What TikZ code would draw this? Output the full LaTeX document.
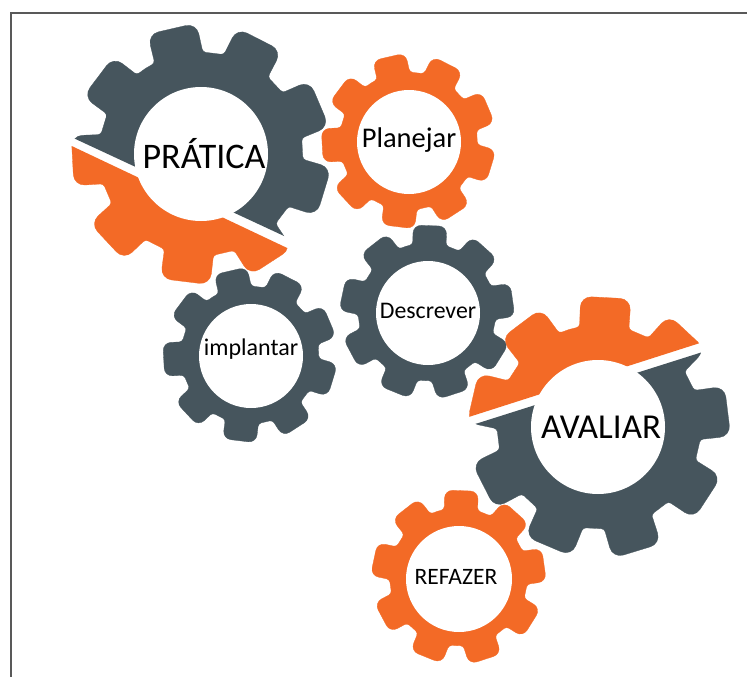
\documentclass[tikz,border=0pt]{standalone}
\usepackage{fontspec}
\setmainfont{Carlito}
\usetikzlibrary{positioning}
\definecolor{geardark}{RGB}{70,85,93}
\definecolor{gearorange}{RGB}{243,106,38}
\tikzstyle{gearhole} = [circle, fill=white, inner sep=0pt]
\tikzstyle{gearlabel} = [text=black, inner sep=0pt, anchor=center]
\tikzstyle{frameline} = [color=black!65, line width=1.6pt]
\newcommand{\GearBody}[6]{
	\begin{scope}[shift={#1}]
		\fill[color=#5,draw=#5,line width=0.3pt]
		({#4-20}:#2) foreach \a in {0,40,...,320} {
			[rounded corners=3pt] -- ({#4+\a-14}:#2)
			[rounded corners=#6] -- ({#4+\a-11}:#3) -- ({#4+\a+11}:#3)
			[rounded corners=3pt] -- ({#4+\a+14}:#2)
		} -- cycle;
	\end{scope}
}
\begin{document}
\begin{tikzpicture}[x=1pt,y=-1pt]
	\useasboundingbox (0,0) rectangle (747,677);
	\fill[white] (0,0) rectangle (747,677);
	\draw[frameline] (11,677) -- (11,13) -- (747,13);

	% split gears
	\begin{scope}
		\clip (40,122.5) -- (340,262) -- (340,0) -- (40,0) -- cycle;
		\GearBody{(201,154)}{102}{131}{-103}{geardark}{11pt}
	\end{scope}
	\begin{scope}
		\clip (40,131) -- (340,273) -- (340,320) -- (40,320) -- cycle;
		\GearBody{(201,154)}{102}{131}{-103}{gearorange}{11pt}
	\end{scope}
	\begin{scope}
		\clip (450,432) -- (750,337) -- (750,600) -- (450,600) -- cycle;
		\GearBody{(599,427)}{102}{132}{-87}{geardark}{11pt}
	\end{scope}
	\begin{scope}
		\clip (450,423) -- (750,327) -- (750,270) -- (450,270) -- cycle;
		\GearBody{(599,427)}{102}{132}{-87}{gearorange}{11pt}
	\end{scope}

	% plain gears
	\GearBody{(408.5,141)}{69}{88}{-103}{gearorange}{8pt}
	\GearBody{(250,355)}{69}{88}{-103}{geardark}{8pt}
	\GearBody{(427,312)}{69}{88}{-88}{geardark}{8pt}
	\GearBody{(458.5,577)}{69}{88}{-88}{gearorange}{8pt}

	% holes
	\node[gearhole,minimum size=134pt] (PH) at (201,154) {};
	\node[gearhole,minimum size=134pt] (AH) at (598,427) {};
	\node[gearhole,minimum size=104pt] (LH) at (409,142) {};
	\node[gearhole,minimum size=104pt] (IH) at (251,356) {};
	\node[gearhole,minimum size=104pt] (DH) at (428,313) {};
	\node[gearhole,minimum size=106pt] (RH) at (459,579) {};

	% labels
	\node[gearlabel,font=\fontsize{36}{40}\selectfont] (P) at (204,154) {PRÁTICA};
	\node[gearlabel,font=\fontsize{35}{40}\selectfont] (A) at (601,427) {AVALIAR};
	\node[gearlabel,font=\fontsize{28.5}{32}\selectfont] (L) at (409,140) {Planejar};
	\node[gearlabel,font=\fontsize{24}{28}\selectfont] (I) at (251,349) {implantar};
	\node[gearlabel,font=\fontsize{23.8}{28}\selectfont] (D) at (428,311) {Descrever};
	\node[gearlabel,font=\fontsize{23.5}{28}\selectfont] (R) at (456,577) {REFAZER};
\end{tikzpicture}
\end{document}
